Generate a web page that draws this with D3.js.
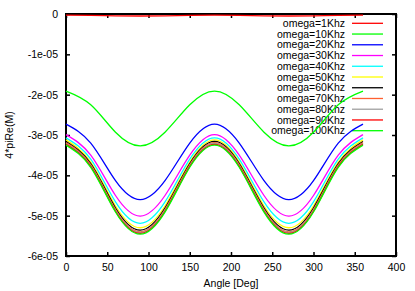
<!DOCTYPE html>
<html>
<head>
<meta charset="utf-8">
<script src="https://cdn.jsdelivr.net/npm/d3@7"></script>
<style>
  body { margin: 0; background: #fff; }
  svg { display: block; font-family: "Liberation Sans", Arial, sans-serif; }
</style>
</head>
<body>
<div id="chart"></div>
<script>
// angles sampled every 30 degrees
const angles = [0, 30, 60, 90, 120, 150, 180, 210, 240, 270, 300, 330, 360];

// series names (legend order)
const seriesNames = ["omega=1Khz", "omega=10Khz", "omega=20Khz", "omega=30Khz", "omega=40Khz",
    "omega=50Khz", "omega=60Khz", "omega=70Khz", "omega=80Khz", "omega=90Khz", "omega=100Khz"];

// values, in units of 1e-5
const w1k   = [-0.030, -0.035, -0.045, -0.050, -0.045, -0.035, -0.030, -0.035, -0.045, -0.050, -0.045, -0.035, -0.030];
const w10k  = [-1.91, -2.25, -2.93, -3.27, -2.93, -2.25, -1.91, -2.25, -2.93, -3.27, -2.93, -2.25, -1.91];
const w20k  = [-2.73, -3.20, -4.13, -4.60, -4.13, -3.20, -2.73, -3.20, -4.13, -4.60, -4.13, -3.20, -2.73];
const w30k  = [-2.99, -3.50, -4.50, -5.01, -4.50, -3.50, -2.99, -3.50, -4.50, -5.01, -4.50, -3.50, -2.99];
const w40k  = [-3.07, -3.60, -4.66, -5.19, -4.66, -3.60, -3.07, -3.60, -4.66, -5.19, -4.66, -3.60, -3.07];
const w50k  = [-3.12, -3.67, -4.76, -5.30, -4.76, -3.67, -3.12, -3.67, -4.76, -5.30, -4.76, -3.67, -3.12];
const w60k  = [-3.16, -3.71, -4.81, -5.36, -4.81, -3.71, -3.16, -3.71, -4.81, -5.36, -4.81, -3.71, -3.16];
const w70k  = [-3.19, -3.74, -4.85, -5.40, -4.85, -3.74, -3.19, -3.74, -4.85, -5.40, -4.85, -3.74, -3.19];
const w80k  = [-3.21, -3.76, -4.87, -5.42, -4.87, -3.76, -3.21, -3.76, -4.87, -5.42, -4.87, -3.76, -3.21];
const w90k  = [-3.23, -3.78, -4.89, -5.44, -4.89, -3.78, -3.23, -3.78, -4.89, -5.44, -4.89, -3.78, -3.23];
const w100k = [-3.25, -3.80, -4.91, -5.46, -4.91, -3.80, -3.25, -3.80, -4.91, -5.46, -4.91, -3.80, -3.25];

const seriesValues = [w1k, w10k, w20k, w30k, w40k, w50k, w60k, w70k, w80k, w90k, w100k];

// gnuplot-like line colours
const colors = ["#ff0000", "#00ff00", "#0000ff", "#ff00ff", "#00ffff", "#ffff00",
    "#000000", "#ff6030", "#a0a0a0", "#ff0000", "#00ff00"];

// tick values and labels
const xTicks = [0, 50, 100, 150, 200, 250, 300, 350, 400];
const yTicks = [0, -1e-5, -2e-5, -3e-5, -4e-5, -5e-5, -6e-5];
const yTickLabels = ["0", "-1e-05", "-2e-05", "-3e-05", "-4e-05", "-5e-05", "-6e-05"];

const W = 415, H = 291;
const plot = { left: 66, right: 396, top: 14, bottom: 256 };

const svg = d3.select("#chart").append("svg")
    .attr("width", W)
    .attr("height", H);

const x = d3.scaleLinear().domain([0, 400]).range([plot.left, plot.right]);
const y = d3.scaleLinear().domain([-6e-5, 0]).range([plot.bottom, plot.top]);

// axes: ticks inside, mirrored on top and right
const tickLen = 4;
const bottomAxis = d3.axisBottom(x).tickValues(xTicks).tickSizeInner(-tickLen).tickSizeOuter(0).tickPadding(8);
const topAxis = d3.axisTop(x).tickValues(xTicks).tickSizeInner(-tickLen).tickSizeOuter(0).tickFormat("");
const leftAxis = d3.axisLeft(y).tickValues(yTicks).tickSizeInner(-tickLen).tickSizeOuter(0).tickPadding(8)
    .tickFormat((d, i) => yTickLabels[i]);
const rightAxis = d3.axisRight(y).tickValues(yTicks).tickSizeInner(-tickLen).tickSizeOuter(0).tickFormat("");

function styleAxis(g) {
    g.select(".domain").remove();
    g.selectAll(".tick line").attr("stroke", "#000").attr("stroke-width", 1.5);
    g.selectAll(".tick text").attr("fill", "#000").style("font-size", "10.5px");
}

svg.append("g").attr("transform", `translate(0,${plot.bottom})`).call(bottomAxis).call(styleAxis);
svg.append("g").attr("transform", `translate(0,${plot.top})`).call(topAxis).call(styleAxis);
svg.append("g").attr("transform", `translate(${plot.left},0)`).call(leftAxis).call(styleAxis);
svg.append("g").attr("transform", `translate(${plot.right},0)`).call(rightAxis).call(styleAxis);

// frame
svg.append("rect")
    .attr("x", plot.left)
    .attr("y", plot.top)
    .attr("width", plot.right - plot.left)
    .attr("height", plot.bottom - plot.top)
    .attr("fill", "none")
    .attr("stroke", "#000")
    .attr("stroke-width", 2);

// axis titles
svg.append("text")
    .attr("x", (plot.left + plot.right) / 2)
    .attr("y", 287)
    .attr("text-anchor", "middle")
    .style("font-size", "10.5px")
    .text("Angle [Deg]");

svg.append("text")
    .attr("transform", `translate(13,135) rotate(-90)`)
    .attr("text-anchor", "middle")
    .style("font-size", "10.5px")
    .text("4*piRe(M)");

// legend
const legend = svg.append("g");
seriesNames.forEach((name, i) => {
    const ly = 23.3 + i * 10.74;
    legend.append("text")
        .attr("x", 345)
        .attr("y", ly)
        .attr("dy", "0.35em")
        .attr("text-anchor", "end")
        .style("font-size", "10.5px")
        .text(name);
    legend.append("line")
        .attr("x1", 352)
        .attr("x2", 383)
        .attr("y1", ly)
        .attr("y2", ly)
        .attr("stroke", colors[i])
        .attr("stroke-width", 1.3);
});

// curves, drawn last so they sit over the frame and legend like gnuplot
const line = d3.line()
    .x(d => x(d[0]))
    .y(d => y(d[1] * 1e-5))
    .curve(d3.curveNatural);

seriesValues.forEach((vals, i) => {
    svg.append("path")
        .datum(angles.map((a, k) => [a, vals[k]]))
        .attr("d", line)
        .attr("fill", "none")
        .attr("stroke", colors[i])
        .attr("stroke-width", 1.3);
});
</script>
</body>
</html>
